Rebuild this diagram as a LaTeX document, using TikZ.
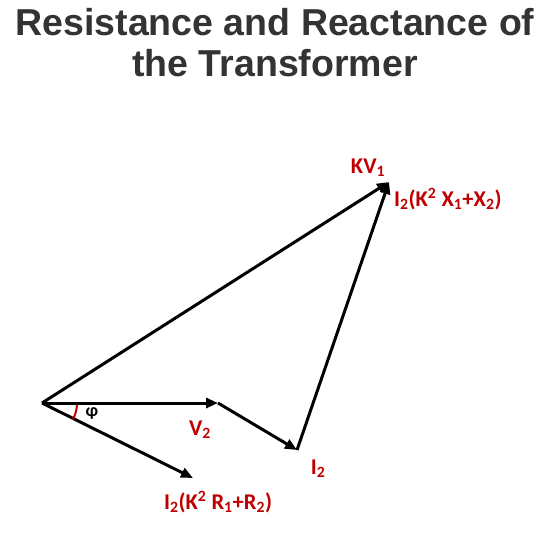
\documentclass[tikz,border=0pt]{standalone}
\usepackage{fontspec}
\setmainfont{Liberation Sans}
\newfontfamily\lblfont{Carlito}
\usetikzlibrary{arrows.meta}
\definecolor{lblred}{RGB}{192,0,0}
\definecolor{titlegray}{RGB}{51,51,51}
\begin{document}
\begin{tikzpicture}[x=1pt,y=-1pt,
  vec/.style={line width=3pt,-{Triangle[length=12pt,width=10pt]}},
  lbl/.style={text=lblred,font=\lblfont\bfseries\fontsize{22.5}{26}\selectfont,inner sep=0pt},
  ttl/.style={text=titlegray,font=\bfseries\fontsize{37.5}{41}\selectfont,align=center,inner sep=0pt}]
\useasboundingbox (0,0) rectangle (550,550);
\node[ttl] (title) at (275,43) {Resistance and Reactance of\\the Transformer};
\coordinate (O) at (42,403);
\coordinate (V) at (218,403);
\coordinate (I) at (297,450);
\coordinate (K) at (389,182);
\coordinate (R) at (193,478);
\draw[vec] (O) -- (V);
\draw[vec] (V) -- (I);
\draw[vec] (O) -- (K);
\draw[vec] (I) -- (K);
\draw[vec] (O) -- (R);
\draw[lblred,line width=2pt] (O) ++(3:35) arc[start angle=3,end angle=28,radius=35];
\node[inner sep=0pt,font=\lblfont\bfseries\fontsize{18}{20}\selectfont] (phi) at (92,413) {φ};
\node[lbl] (kv) at (368,168) {KV\textsubscript{1}};
\node[lbl,anchor=west] (ix) at (394,199) {I\textsubscript{2}(K\textsuperscript{2} X\textsubscript{1}+X\textsubscript{2})};
\node[lbl] (v2) at (200,430) {V\textsubscript{2}};
\node[lbl] (i2) at (318,469) {I\textsubscript{2}};
\node[lbl,anchor=west] (ir) at (164,502) {I\textsubscript{2}(K\textsuperscript{2} R\textsubscript{1}+R\textsubscript{2})};
\end{tikzpicture}
\end{document}
